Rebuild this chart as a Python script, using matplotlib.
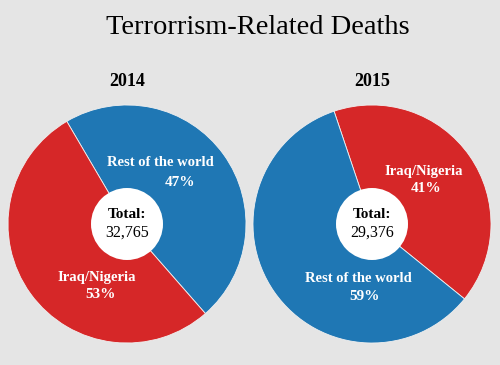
import matplotlib.pyplot as plt
from matplotlib.patches import Circle

# data
years = ['2014', '2015']
categories = [['Rest of the world', 'Iraq/Nigeria'], ['Iraq/Nigeria', 'Rest of the world']]
shares = [[47, 53], [41, 59]]
totals = ['32,765', '29,376']

RED = '#d62728'
BLUE = '#1f77b4'
colors = [[BLUE, RED], [RED, BLUE]]
start_angles = [120.4, 108.6]

# layout in pixels (y up)
centers = [(127, 141), (372, 141)]
radius = 119
hole = 36
# label anchor offsets (dx, dy) from pie centre, per slice
label_offsets = [[(33, 61), (-30, -54)], [(52, 53), (-14, -55)]]
pct_offsets = [[(53, 42), (-27, -71)], [(54, 36), (-7, -73)]]

plt.rcParams['font.family'] = ['Liberation Serif', 'DejaVu Serif']

fig = plt.figure(figsize=(5, 3.65), dpi=100)
fig.patch.set_facecolor('#e5e5e5')
ax = fig.add_axes([0, 0, 1, 1])

ax.text(258, 365 - 27, 'Terrorrism-Related Deaths', ha='center', va='center', fontsize=20.5)

for i in range(2):
    cx, cy = centers[i]
    ax.pie(shares[i], colors=colors[i], startangle=start_angles[i], counterclock=False,
           center=(cx, cy), radius=radius, frame=True,
           wedgeprops=dict(edgecolor='#f0f0f0', linewidth=0.6))
    ax.text(cx, 365 - 81, years[i], ha='center', va='center', fontsize=13, fontweight='bold')
    for j in range(2):
        lx, ly = label_offsets[i][j]
        px, py = pct_offsets[i][j]
        ax.text(cx + lx, cy + ly, categories[i][j], ha='center', va='center',
                fontsize=10.5, fontweight='bold', color='white')
        ax.text(cx + px, cy + py, f'{shares[i][j]}%', ha='center', va='center',
                fontsize=11, fontweight='bold', color='white')
    ax.add_patch(Circle((cx, cy), hole, facecolor='white', edgecolor='none', zorder=5))
    ax.text(cx, cy + 9, 'Total:', ha='center', va='center', fontsize=11,
            fontweight='bold', zorder=6)
    ax.text(cx, cy - 9, totals[i], ha='center', va='center', fontsize=11.5, zorder=6)

ax.set_xlim(0, 500)
ax.set_ylim(0, 365)
ax.set_aspect('equal')
ax.axis('off')

fig.savefig('out.png', dpi=100, facecolor=fig.get_facecolor())
